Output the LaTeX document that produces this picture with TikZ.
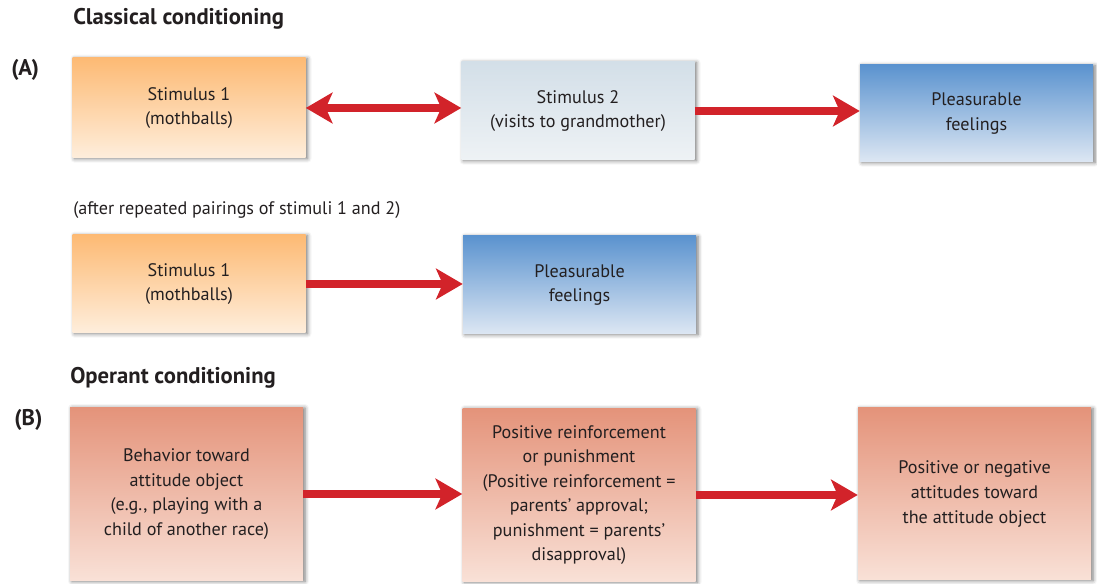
\documentclass[tikz,border=0pt]{standalone}
\usepackage{fontspec}
\setmainfont{PT Sans}
\usetikzlibrary{arrows.meta,shadows.blur}
\definecolor{txt}{HTML}{231F20}
\definecolor{arrred}{HTML}{D2232A}
\definecolor{orT}{HTML}{FDBA74}
\definecolor{orB}{HTML}{FEEEDC}
\definecolor{grT}{HTML}{D3DFE8}
\definecolor{grB}{HTML}{EEF2F5}
\definecolor{blT}{HTML}{5B93CF}
\definecolor{blB}{HTML}{DDE7F3}
\definecolor{saT}{HTML}{E4937A}
\definecolor{saB}{HTML}{F9E1D7}
\tikzset{
  box/.style={minimum width=174.75pt, text=txt, align=center, inner sep=0pt,
    font=\fontsize{13.6}{18.4}\selectfont,
    blur shadow={shadow xshift=1.5pt, shadow yshift=-0.5pt, shadow blur radius=3pt, shadow opacity=55}},
  orbox/.style={box, top color=orT, bottom color=orB},
  grbox/.style={box, top color=grT, bottom color=grB},
  blbox/.style={box, top color=blT, bottom color=blB},
  sabox/.style={box, top color=saT, bottom color=saB},
  arr/.style={draw=arrred, line width=6.5pt, -{Stealth[length=20pt,width=23pt,inset=5pt]}},
  darr/.style={draw=arrred, line width=6.5pt, {Stealth[length=20pt,width=23pt,inset=5pt]}-{Stealth[length=20pt,width=23pt,inset=5pt]}},
  head/.style={anchor=west, inner sep=0pt, text=txt, font=\fontsize{17}{19}\selectfont\bfseries},
  lab/.style={anchor=west, inner sep=0pt, text=txt, font=\fontsize{13.6}{16}\selectfont}
}
\begin{document}
\begin{tikzpicture}[x=0.75pt,y=-0.75pt]
\useasboundingbox (0,0) rectangle (1097,584);
\node[head] (t1) at (73,19) {Classical conditioning};
\node[head] (la) at (11,70) {(A)};
\node[orbox, minimum height=75pt] (a1) at (189,108) {Stimulus 1\\(mothballs)};
\node[grbox, minimum height=73.5pt] (a2) at (578,111) {Stimulus 2\\(visits to grandmother)};
\node[blbox, minimum height=72.75pt] (a3) at (976.5,113.5) {Pleasurable\\feelings};
\node[lab] (t2) at (73,210) {(after repeated pairings of stimuli 1 and 2)};
\node[orbox, minimum height=73.5pt] (a4) at (189,284) {Stimulus 1\\(mothballs)};
\node[blbox, minimum height=73.5pt] (a5) at (579.5,285) {Pleasurable\\feelings};
\node[head] (t3) at (70,378) {Operant conditioning};
\node[head] (lb) at (14,420) {(B)};
\node[sabox, minimum height=130pt] (b1) at (186.5,494) {Behavior toward\\attitude object\\(e.g., playing with a\\child of another race)};
\node[sabox, minimum height=130pt] (b2) at (579,495) {Positive reinforcement\\or punishment\\(Positive reinforcement =\\parents’ approval;\\punishment = parents’\\disapproval)};
\node[sabox, minimum height=129pt] (b3) at (974.5,494) {Positive or negative\\attitudes toward\\the attitude object};
\draw[darr] (a1.east) -- (a1.east -| a2.west);
\draw[arr] (a2.east) -- (a2.east -| a3.west);
\draw[arr] (a4.east) -- (a4.east -| a5.west);
\draw[arr] (b1.east) -- (b1.east -| b2.west);
\draw[arr] (b2.east) -- (b2.east -| b3.west);
\end{tikzpicture}
\end{document}
